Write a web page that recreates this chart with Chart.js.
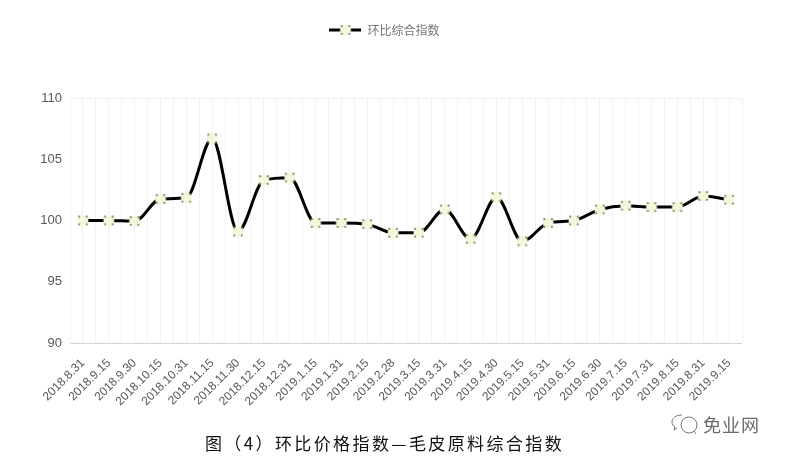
<!DOCTYPE html>
<html>
<head>
<meta charset="utf-8">
<script src="https://cdn.jsdelivr.net/npm/chart.js@4"></script>
<style>
    body{margin:0;background:#fff;}
    #wrap{position:relative;width:785px;height:459px;overflow:hidden;}
    #chart_title{position:absolute;left:0;width:769px;top:430px;text-align:center;color:#111;font:17px/26px "Noto Sans CJK SC";letter-spacing:2.4px;}
    #mark{position:absolute;left:670px;top:411px;display:flex;align-items:center;color:#6b6b6b;font:18px "Noto Sans CJK SC";}
    #mark span{margin-left:3px;letter-spacing:1px;}
</style>
</head>
<body>
<div id="wrap">
    <canvas id="price_chart" width="785" height="459"></canvas>
    <div id="chart_title"></div>
    <div id="mark">
        <svg width="30" height="24" viewBox="0 0 30 24" fill="none" stroke="#777" stroke-width="1">
            <path d="M12 3C6 3 2 6 2 10c0 2 1 4 3 5l-1 3 3-2"/>
            <circle cx="19" cy="13" r="8"/>
            <path d="M24 19l2 3"/>
        </svg>
        <span>免业网</span>
    </div>
</div>
<script>
const labels = ["2018.8.31","2018.9.15","2018.9.30","2018.10.15","2018.10.31","2018.11.15","2018.11.30","2018.12.15","2018.12.31",
    "2019.1.15","2019.1.31","2019.2.15","2019.2.28","2019.3.15","2019.3.31","2019.4.15","2019.4.30","2019.5.15","2019.5.31",
    "2019.6.15","2019.6.30","2019.7.15","2019.7.31","2019.8.15","2019.8.31","2019.9.15"];
const values = [100,100,99.95,101.75,101.85,106.7,99.1,103.3,103.5,99.8,99.8,99.7,99,99,100.9,98.5,101.9,98.3,99.8,100,100.9,101.2,101.1,101.1,102,101.7];
const seriesName = "环比综合指数";
const chartTitle = "图（4）环比价格指数—毛皮原料综合指数";

document.getElementById("chart_title").textContent = chartTitle;

// marker: pale disc with four small dots
function drawMarker(c, x, y){
    c.fillStyle = "#f5f7dc";
    c.beginPath(); c.arc(x, y, 5.5, 0, Math.PI*2); c.fill();
    c.fillStyle = "#7d8a62";
    [[-3.8,-3.8],[3.8,-3.8],[-3.8,3.8],[3.8,3.8]].forEach(function(d){
        c.beginPath(); c.arc(x+d[0], y+d[1], 1.1, 0, Math.PI*2); c.fill();
    });
}
let marker = document.createElement("canvas");
marker.width = 14; marker.height = 14;
drawMarker(marker.getContext("2d"), 7, 7);

let legendMark = document.createElement("canvas");
legendMark.width = 32; legendMark.height = 14;
let lc = legendMark.getContext("2d");
lc.fillStyle = "#000";
lc.fillRect(0, 5.5, 32, 3);
drawMarker(lc, 16, 7);

let ctx = document.getElementById("price_chart");
let price_chart = new Chart(ctx, {
    type:"line",
    data:{
        labels:labels,
        datasets:[
            {
                label:seriesName,
                data:values,
                borderColor:"#000",
                borderWidth:3,
                cubicInterpolationMode:"monotone",
                pointStyle:marker,
                pointRadius:6,
                xAxisID:"x",
                yAxisID:"y"
            }
        ]
    },
    options:{
        responsive:false,
        animation:false,
        layout:{padding:{top:14, right:16, bottom:0, left:0}},
        plugins:{
            legend:{
                position:"top",
                labels:{
                    usePointStyle:true,
                    pointStyleWidth:32,
                    padding:10,
                    font:{family:"'Noto Sans CJK SC'", size:12},
                    generateLabels:function(){
                        return [{text:seriesName, pointStyle:legendMark, fontColor:"#777", lineWidth:0, datasetIndex:0}];
                    }
                }
            },
            tooltip:{enabled:false}
        },
        scales:{
            x:{
                offset:true,
                afterFit:function(axis){ axis.height = 116; },
                grid:{offset:true, color:"#f2f2f2", drawTicks:false},
                border:{display:false},
                ticks:{
                    autoSkip:false,
                    minRotation:45,
                    maxRotation:45,
                    padding:13,
                    color:"#595959",
                    font:{family:"'Liberation Sans'", size:12}
                }
            },
            // second x axis only adds the grid lines at the category centres
            x2:{
                position:"top",
                type:"category",
                labels:labels,
                offset:true,
                afterFit:function(axis){ axis.height = 52; },
                grid:{offset:false, color:"#f2f2f2", drawTicks:false},
                border:{display:false},
                ticks:{display:false}
            },
            y:{
                min:90,
                max:110,
                afterFit:function(axis){ axis.width = 70; },
                grid:{
                    drawTicks:false,
                    color:function(c){
                        if(c.tick.value == 90) return "#d4d4d4";
                        if(c.tick.value == 110) return "#f2f2f2";
                        return "rgba(0,0,0,0)";
                    }
                },
                border:{display:false},
                ticks:{
                    stepSize:5,
                    padding:8,
                    color:"#595959",
                    font:{family:"'Liberation Sans'", size:13}
                }
            },
            // empty right axis, together with the padding it centres the legend at 384
            y2:{
                position:"right",
                min:90,
                max:110,
                afterFit:function(axis){ axis.width = 27; },
                grid:{display:false},
                border:{display:false},
                ticks:{display:false}
            }
        }
    }
});
</script>
</body>
</html>
